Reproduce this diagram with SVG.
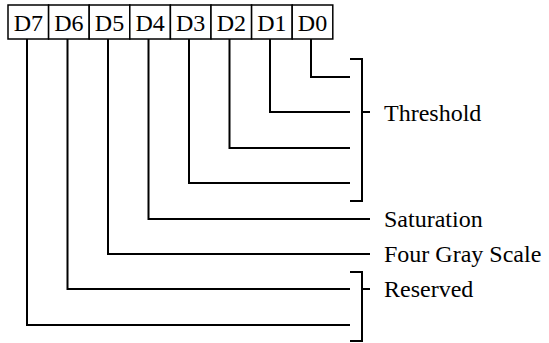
<svg xmlns="http://www.w3.org/2000/svg" width="549" height="343" viewBox="0 0 549 343">
<style>
.cell{fill:#fff;stroke:#000;stroke-width:1.5}
.lbl{font-family:'Liberation Serif','Times New Roman',Times,'DejaVu Serif',serif;font-size:24px;fill:#000}
.d{text-anchor:middle}
.con{fill:none;stroke:#000;stroke-width:2}
</style>
<rect width="549" height="343" fill="#fff"/>
<g id="register">
<g id="cell-D7"><rect class="cell" x="8" y="5" width="40.6" height="34"/><text class="lbl d" x="28.3" y="30.5" font-family="Liberation Serif, serif">D7</text></g>
<g id="cell-D6"><rect class="cell" x="48.6" y="5" width="40.6" height="34"/><text class="lbl d" x="68.9" y="30.5" font-family="Liberation Serif, serif">D6</text></g>
<g id="cell-D5"><rect class="cell" x="89.2" y="5" width="40.6" height="34"/><text class="lbl d" x="109.5" y="30.5" font-family="Liberation Serif, serif">D5</text></g>
<g id="cell-D4"><rect class="cell" x="129.8" y="5" width="40.6" height="34"/><text class="lbl d" x="150.1" y="30.5" font-family="Liberation Serif, serif">D4</text></g>
<g id="cell-D3"><rect class="cell" x="170.4" y="5" width="40.6" height="34"/><text class="lbl d" x="190.7" y="30.5" font-family="Liberation Serif, serif">D3</text></g>
<g id="cell-D2"><rect class="cell" x="211" y="5" width="40.6" height="34"/><text class="lbl d" x="231.3" y="30.5" font-family="Liberation Serif, serif">D2</text></g>
<g id="cell-D1"><rect class="cell" x="251.6" y="5" width="40.6" height="34"/><text class="lbl d" x="271.9" y="30.5" font-family="Liberation Serif, serif">D1</text></g>
<g id="cell-D0"><rect class="cell" x="292.2" y="5" width="40.6" height="34"/><text class="lbl d" x="312.5" y="30.5" font-family="Liberation Serif, serif">D0</text></g>
</g>
<g id="connectors">
<path class="con" d="M311 39 V77 H350"/>
<path class="con" d="M270 39 V112 H350"/>
<path class="con" d="M229.5 39 V148 H350"/>
<path class="con" d="M189 39 V183 H350"/>
<path class="con" d="M148.5 39 V219 H370"/>
<path class="con" d="M108 39 V254 H370"/>
<path class="con" d="M67.5 39 V289 H350"/>
<path class="con" d="M27 39 V325 H350"/>
<path class="con" d="M350 59 H362 V201 H350 M362 112 H370"/>
<path class="con" d="M350 272 H362 V341 H350 M362 289 H370"/>
</g>
<g id="label-threshold"><text class="lbl" x="384" y="121" font-family="Liberation Serif, serif">Threshold</text></g>
<g id="label-saturation"><text class="lbl" x="384" y="227" font-family="Liberation Serif, serif">Saturation</text></g>
<g id="label-fourgray"><text class="lbl" x="384" y="262" font-family="Liberation Serif, serif">Four Gray Scale</text></g>
<g id="label-reserved"><text class="lbl" x="384" y="297" font-family="Liberation Serif, serif">Reserved</text></g>
</svg>
